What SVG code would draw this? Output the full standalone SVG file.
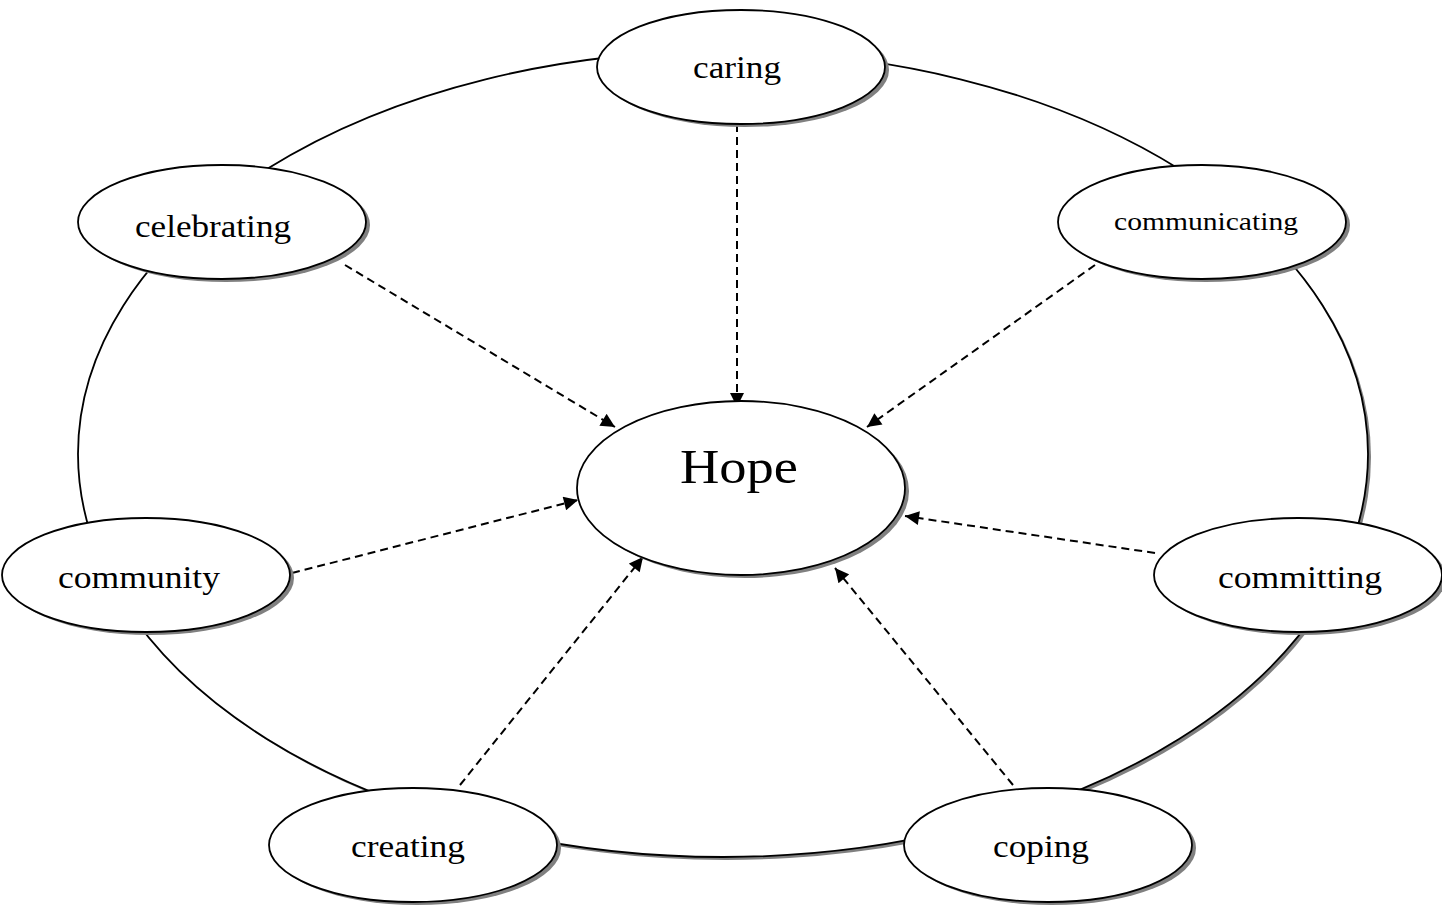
<svg xmlns="http://www.w3.org/2000/svg" width="1442" height="905" viewBox="0 0 1442 905">
<style>
.sh{fill:#808080}
.nd{fill:#fff;stroke:#000;stroke-width:1.8}
.lbl{font-family:"Liberation Serif","DejaVu Serif",serif;font-size:31px;fill:#000;text-anchor:middle}
.con{stroke:#000;stroke-width:2;stroke-dasharray:8,5;fill:none;marker-end:url(#ah)}
</style>
<defs>
<marker id="ah" viewBox="0 0 10 10" refX="10" refY="5" markerUnits="userSpaceOnUse" markerWidth="15" markerHeight="14" orient="auto">
<path d="M0,0 L10,5 L0,10 Z" fill="#000"/>
</marker>
</defs>
<rect width="1442" height="905" fill="#fff"/>
<g id="ring">
<ellipse class="sh" cx="726" cy="457" rx="645" ry="403"/>
<ellipse class="nd" cx="723" cy="454" rx="645" ry="403"/>
</g>
<g id="connectors">
<line class="con" x1="737" y1="124" x2="737" y2="407"/>
<line class="con" x1="345" y1="265" x2="615" y2="427"/>
<line class="con" x1="1095" y1="265" x2="867" y2="427"/>
<line class="con" x1="292" y1="573" x2="578" y2="500"/>
<line class="con" x1="1155" y1="553" x2="905" y2="516"/>
<line class="con" x1="460" y1="785" x2="643" y2="557"/>
<line class="con" x1="1013" y1="785" x2="835" y2="568"/>
</g>
<g id="hope">
<ellipse class="sh" cx="745" cy="491" rx="164" ry="87"/>
<ellipse class="nd" cx="741" cy="488" rx="164" ry="87"/>
<text class="lbl" x="739" y="483" style="font-size:48px" textLength="118" lengthAdjust="spacingAndGlyphs">Hope</text>
</g>
<g id="caring">
<ellipse class="sh" cx="745" cy="70" rx="144" ry="57"/>
<ellipse class="nd" cx="741" cy="67" rx="144" ry="57"/>
<text class="lbl" x="737" y="78" textLength="88" lengthAdjust="spacingAndGlyphs">caring</text>
</g>
<g id="celebrating">
<ellipse class="sh" cx="226" cy="225" rx="144" ry="57"/>
<ellipse class="nd" cx="222" cy="222" rx="144" ry="57"/>
<text class="lbl" x="213" y="237" textLength="156" lengthAdjust="spacingAndGlyphs">celebrating</text>
</g>
<g id="communicating">
<ellipse class="sh" cx="1206" cy="225" rx="144" ry="57"/>
<ellipse class="nd" cx="1202" cy="222" rx="144" ry="57"/>
<text class="lbl" x="1206" y="230" style="font-size:25px" textLength="184" lengthAdjust="spacingAndGlyphs">communicating</text>
</g>
<g id="community">
<ellipse class="sh" cx="150" cy="578" rx="144" ry="57"/>
<ellipse class="nd" cx="146" cy="575" rx="144" ry="57"/>
<text class="lbl" x="139" y="588" textLength="162" lengthAdjust="spacingAndGlyphs">community</text>
</g>
<g id="committing">
<ellipse class="sh" cx="1302" cy="578" rx="144" ry="57"/>
<ellipse class="nd" cx="1298" cy="575" rx="144" ry="57"/>
<text class="lbl" x="1300" y="588" textLength="164" lengthAdjust="spacingAndGlyphs">committing</text>
</g>
<g id="creating">
<ellipse class="sh" cx="417" cy="848" rx="144" ry="57"/>
<ellipse class="nd" cx="413" cy="845" rx="144" ry="57"/>
<text class="lbl" x="408" y="857" textLength="114" lengthAdjust="spacingAndGlyphs">creating</text>
</g>
<g id="coping">
<ellipse class="sh" cx="1052" cy="848" rx="144" ry="57"/>
<ellipse class="nd" cx="1048" cy="845" rx="144" ry="57"/>
<text class="lbl" x="1041" y="857" textLength="96" lengthAdjust="spacingAndGlyphs">coping</text>
</g>
</svg>
